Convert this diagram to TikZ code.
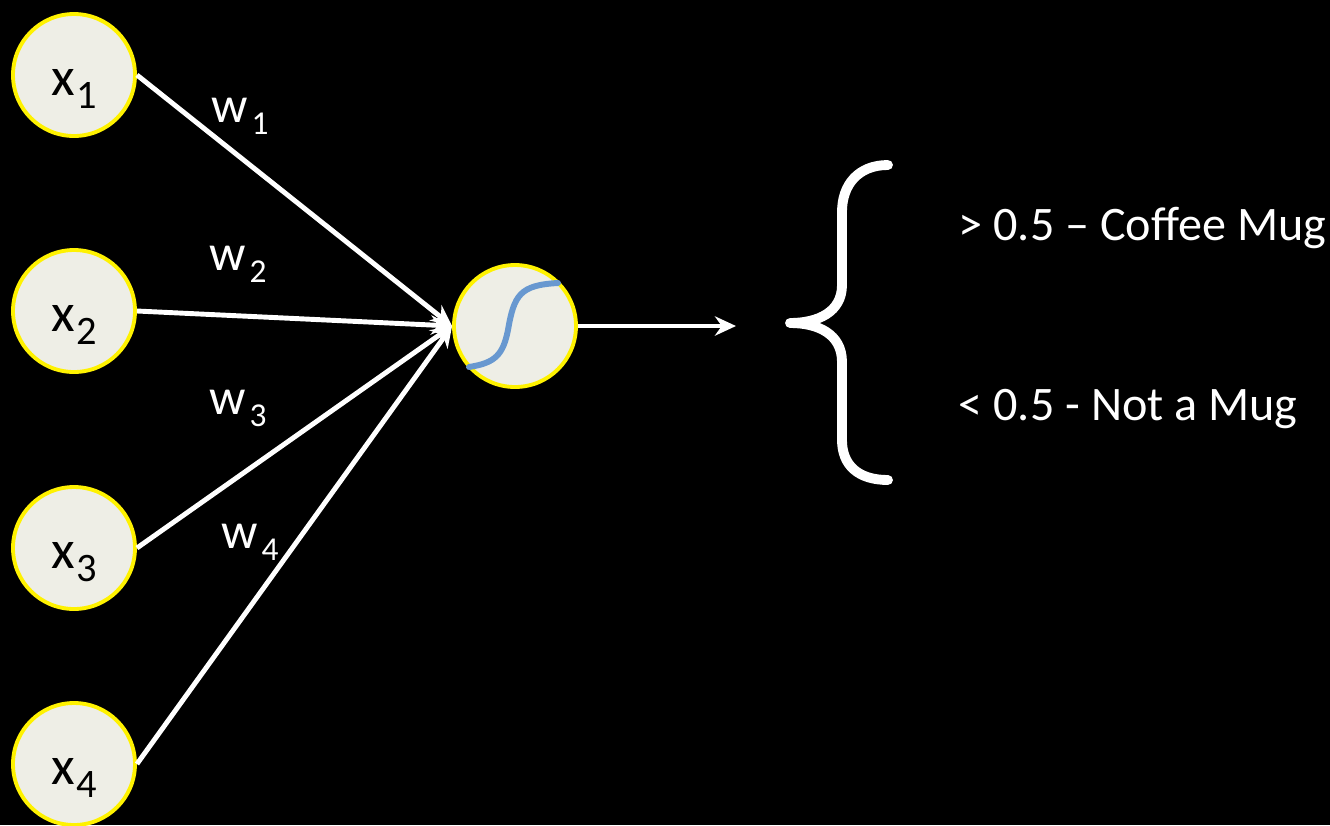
\documentclass[tikz,border=0pt]{standalone}
\usepackage{fontspec}
\setmainfont{Carlito}
\usetikzlibrary{arrows.meta}
\definecolor{nodefill}{RGB}{238,238,230}
\definecolor{nodering}{RGB}{255,242,0}
\definecolor{curveblue}{RGB}{104,152,208}

\newcommand{\inlab}[1]{\raisebox{-5.7pt}[0pt][0pt]{x\kern0.5pt\raisebox{-3.7pt}{\fontsize{11.5}{12}\selectfont #1}}}
\newcommand{\wlab}[1]{w\kern1pt\raisebox{-3.4pt}{\fontsize{9.5}{10}\selectfont #1}}

\begin{document}
\begin{tikzpicture}[
  >={Stealth[length=6pt, width=5.5pt]},
  every node/.style={text=white},
  neuron/.style={circle, fill=nodefill, draw=nodering, line width=1.1pt, minimum size=1.22cm, inner sep=0pt, text=black, font=\fontsize{15.5}{18}\selectfont},
  wire/.style={->, white, line width=1.4pt},
  weight/.style={font=\fontsize{14.5}{16}\selectfont},
  answer/.style={anchor=base west, inner sep=0pt, font=\fontsize{13.7}{16}\selectfont},
]

% ---- background and page size ----
\fill[black] (0,0) rectangle (13.3,-8.25);
\useasboundingbox (0,0) rectangle (13.3,-8.25);

% ---- input units ----
\node[neuron] (x1) at (0.74, -0.75) {\inlab{1}};
\node[neuron] (x2) at (0.74, -3.11) {\inlab{2}};
\node[neuron] (x3) at (0.74, -5.48) {\inlab{3}};
\node[neuron] (x4) at (0.74, -7.64) {\inlab{4}};

% ---- sigmoid unit ----
\node[neuron] (sig) at (5.15, -3.26) {};
\draw[curveblue, line width=1.7pt, line cap=round]
  (4.69,-3.67) .. controls (4.95,-3.63) and (5.03,-3.55) .. (5.08,-3.30)
  .. controls (5.14,-2.95) and (5.20,-2.85) .. (5.58,-2.83);

% ---- weighted inputs ----
\draw[wire] (x1.east) -- (sig.west);
\draw[wire] (x2.east) -- (sig.west);
\draw[wire] (x3.east) -- (sig.west);
\draw[wire] (x4.east) -- (sig.west);

\node[weight] (w1) at (2.40, -1.16) {\wlab{1}};
\node[weight] (w2) at (2.38, -2.64) {\wlab{2}};
\node[weight] (w3) at (2.38, -4.08) {\wlab{3}};
\node[weight] (w4) at (2.50, -5.42) {\wlab{4}};

% ---- output ----
\coordinate (out) at (7.36, -3.26);
\draw[wire] (sig.east) -- (out);

% ---- decision brace ----
\draw[white, line width=2.8pt, line join=round, line cap=round]
  (8.88,-1.65) .. controls (8.58,-1.65) and (8.42,-1.85) .. (8.42,-2.12)
  -- (8.42,-2.85) .. controls (8.42,-3.12) and (8.18,-3.23) .. (7.90,-3.23)
  .. controls (8.18,-3.23) and (8.42,-3.34) .. (8.42,-3.62)
  -- (8.42,-4.40) .. controls (8.42,-4.65) and (8.58,-4.80) .. (8.88,-4.80);

\node[answer] (mug)   at (9.58, -2.40) {> 0.5 – Coffee Mug};
\node[answer] (nomug) at (9.58, -4.20) {< 0.5 - Not a Mug};

\end{tikzpicture}
\end{document}
